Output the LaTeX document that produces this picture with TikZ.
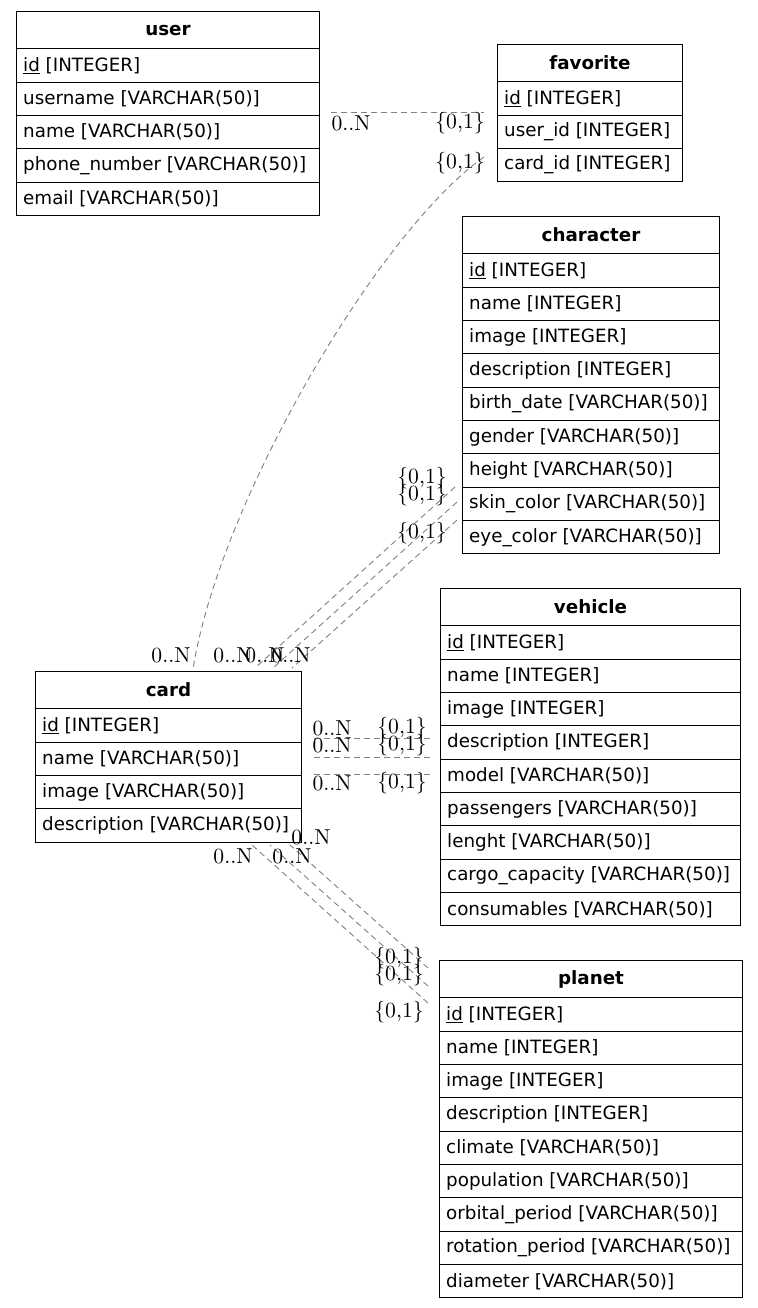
\documentclass[tikz,border=0pt]{standalone}
\usepackage{fontspec}
\newfontfamily\tblfont{DejaVu Sans}
\newfontfamily\multfont{lmroman10-regular.otf}
\begin{document}
\tikzset{
  tbox/.style={draw=black, line width=1pt, rectangle, inner sep=0pt, anchor=north west},
  htext/.style={font=\tblfont\bfseries\fontsize{18.3}{22}\selectfont, inner sep=0pt},
  rtext/.style={font=\tblfont\fontsize{18.3}{22}\selectfont, anchor=west, inner sep=0pt},
  rel/.style={draw=black!50, line width=0.9pt, dash pattern=on 6pt off 4pt},
  mult/.style={font=\multfont\fontsize{21.6}{26}\selectfont, inner sep=0pt},
}
\newcommand\ertable[6]{%
  \node[tbox, minimum width=#4pt, minimum height=37.3pt] (#1) at (#2,#3) {};
  \node[htext] (#1-title) at (#1.center) {#5};
  \foreach \r [count=\i] in {#6} {
    \pgfmathsetmacro\yy{#3+37.3+(\i-1)*33.35}
    \node[tbox, minimum width=#4pt, minimum height=33.35pt] (#1-\i) at (#2,\yy) {};
    \node[rtext] (#1-t\i) at ([xshift=7pt]#1-\i.west) {\r};
  }
}
\begin{tikzpicture}[x=1pt,y=-1pt]
\useasboundingbox (0,0) rectangle (757,1308);

% tables
\ertable{user}{16}{11}{303}{user}{{\underline{id} [INTEGER]},{username [VARCHAR(50)]},{name [VARCHAR(50)]},{phone\_number [VARCHAR(50)]},{email [VARCHAR(50)]}}
\ertable{favorite}{497}{44}{185}{favorite}{{\underline{id} [INTEGER]},{user\_id [INTEGER]},{card\_id [INTEGER]}}
\ertable{character}{462}{216}{257}{character}{{\underline{id} [INTEGER]},{name [INTEGER]},{image [INTEGER]},{description [INTEGER]},{birth\_date [VARCHAR(50)]},{gender [VARCHAR(50)]},{height [VARCHAR(50)]},{skin\_color [VARCHAR(50)]},{eye\_color [VARCHAR(50)]}}
\ertable{vehicle}{440}{588}{300}{vehicle}{{\underline{id} [INTEGER]},{name [INTEGER]},{image [INTEGER]},{description [INTEGER]},{model [VARCHAR(50)]},{passengers [VARCHAR(50)]},{lenght [VARCHAR(50)]},{cargo\_capacity [VARCHAR(50)]},{consumables [VARCHAR(50)]}}
\ertable{card}{35}{671}{266}{card}{{\underline{id} [INTEGER]},{name [VARCHAR(50)]},{image [VARCHAR(50)]},{description [VARCHAR(50)]}}
\ertable{planet}{439}{960}{303}{planet}{{\underline{id} [INTEGER]},{name [INTEGER]},{image [INTEGER]},{description [INTEGER]},{climate [VARCHAR(50)]},{population [VARCHAR(50)]},{orbital\_period [VARCHAR(50)]},{rotation\_period [VARCHAR(50)]},{diameter [VARCHAR(50)]}}

% connector end points
\coordinate (uf-a) at (331,112);
\coordinate (uf-b) at (484,112);
\coordinate (fc-a) at (484,157);
\coordinate (fc-b) at (193,669);
\coordinate (cc1-a) at (455,487);
\coordinate (cc1-b) at (255,668);
\coordinate (cc2-a) at (457,502);
\coordinate (cc2-b) at (273,668);
\coordinate (cc3-a) at (457,520);
\coordinate (cc3-b) at (292,668);
\coordinate (vc1-a) at (430,738);
\coordinate (vc1-b) at (313,738);
\coordinate (vc2-a) at (430,757);
\coordinate (vc2-b) at (313,757);
\coordinate (vc3-a) at (430,774);
\coordinate (vc3-b) at (313,774);
\coordinate (pc1-a) at (428,1003);
\coordinate (pc1-b) at (252,845);
\coordinate (pc2-a) at (428,986);
\coordinate (pc2-b) at (270,845);
\coordinate (pc3-a) at (428,968);
\coordinate (pc3-b) at (290,845);

% connectors
\draw[rel] (uf-a) -- (uf-b);
\draw[rel] (fc-a) .. controls (380,230) and (220,500) .. (fc-b);
\draw[rel] (cc1-a) -- (cc1-b);
\draw[rel] (cc2-a) -- (cc2-b);
\draw[rel] (cc3-a) -- (cc3-b);
\draw[rel] (vc1-a) -- (vc1-b);
\draw[rel] (vc2-a) -- (vc2-b);
\draw[rel] (vc3-a) -- (vc3-b);
\draw[rel] (pc1-a) -- (pc1-b);
\draw[rel] (pc2-a) -- (pc2-b);
\draw[rel] (pc3-a) -- (pc3-b);

% multiplicity labels
\node[mult] (uf-la) at (351,123) {0..N};
\node[mult] (uf-lb) at (460,123) {\{0,1\}};
\node[mult] (fc-la) at (460,163) {\{0,1\}};
\node[mult] (fc-lb) at (171,655) {0..N};
\node[mult] (cc1-la) at (422,478) {\{0,1\}};
\node[mult] (cc2-la) at (422,495) {\{0,1\}};
\node[mult] (cc3-la) at (422,533) {\{0,1\}};
\node[mult] (cc1-lb) at (233,655) {0..N};
\node[mult] (cc2-lb) at (265,655) {0..N};
\node[mult] (cc3-lb) at (291,655) {0..N};
\node[mult] (vc1-lb) at (332,728) {0..N};
\node[mult] (vc2-lb) at (332,745) {0..N};
\node[mult] (vc3-lb) at (332,783) {0..N};
\node[mult] (vc1-la) at (402,728) {\{0,1\}};
\node[mult] (vc2-la) at (402,745) {\{0,1\}};
\node[mult] (vc3-la) at (402,783) {\{0,1\}};
\node[mult] (pc1-lb) at (233,856) {0..N};
\node[mult] (pc2-lb) at (292,856) {0..N};
\node[mult] (pc3-lb) at (311,837) {0..N};
\node[mult] (pc3-la) at (399,958) {\{0,1\}};
\node[mult] (pc2-la) at (399,975) {\{0,1\}};
\node[mult] (pc1-la) at (399,1012) {\{0,1\}};
\end{tikzpicture}
\end{document}
